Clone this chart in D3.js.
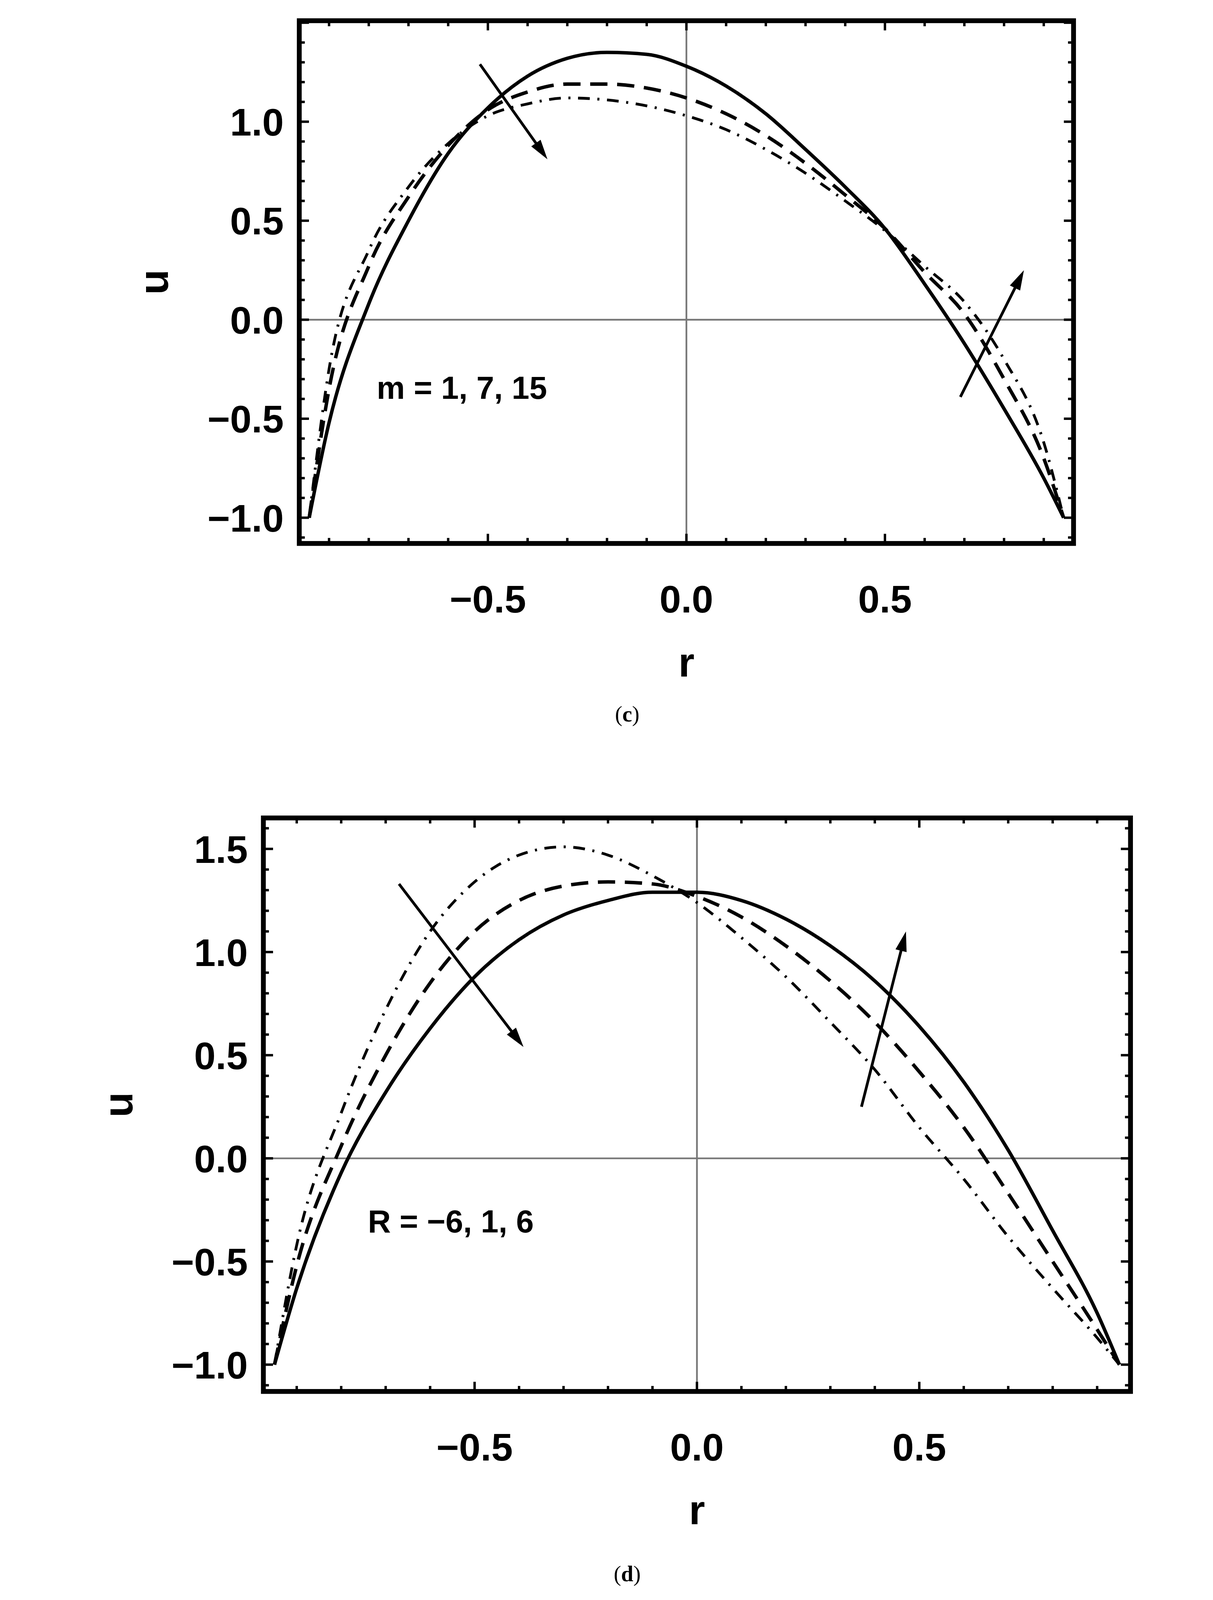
<!DOCTYPE html>
<html><head><meta charset="utf-8">
<script src="https://cdn.jsdelivr.net/npm/d3@7"></script>
<style>html,body{margin:0;padding:0;background:#fff;overflow:hidden}svg{display:block}</style>
</head><body>
<script>
// r grid shared by all curves
var rVals = [-0.95,-0.9,-0.8,-0.7,-0.6,-0.5,-0.4,-0.3,-0.2,-0.1,0,0.1,0.2,0.3,0.4,0.5,0.6,0.7,0.8,0.9,0.95];

// panel (c): m = 1, 7, 15
var uM1  = [-1.0,-0.52,0.08,0.50,0.84,1.07,1.23,1.32,1.35,1.34,1.28,1.18,1.04,0.86,0.67,0.46,0.18,-0.12,-0.45,-0.80,-1.0];
var uM7  = [-1.0,-0.35,0.27,0.62,0.88,1.06,1.15,1.19,1.19,1.17,1.12,1.04,0.93,0.79,0.63,0.46,0.24,0.03,-0.30,-0.70,-1.0];
var uM15 = [-1.0,-0.25,0.35,0.67,0.89,1.03,1.09,1.12,1.11,1.08,1.03,0.96,0.86,0.74,0.60,0.45,0.27,0.09,-0.20,-0.62,-1.0];

// panel (d): R = -6, 1, 6
var uRa = [-1.0,-0.63,-0.07,0.32,0.63,0.88,1.06,1.18,1.25,1.29,1.29,1.25,1.16,1.03,0.86,0.64,0.37,0.04,-0.35,-0.75,-1.0];
var uRb = [-1.0,-0.52,0.06,0.50,0.85,1.10,1.25,1.32,1.34,1.33,1.27,1.17,1.03,0.86,0.66,0.42,0.15,-0.17,-0.50,-0.83,-1.0];
var uRc = [-1.0,-0.42,0.22,0.72,1.10,1.34,1.47,1.51,1.47,1.37,1.24,1.07,0.88,0.66,0.43,0.15,-0.10,-0.38,-0.63,-0.87,-1.0];

var xTicks = [-0.5,0,0.5];
var yTicksC = [-1,-0.5,0,0.5,1];
var yTicksD = [-1,-0.5,0,0.5,1,1.5];

var svg = d3.select("body").append("svg")
  .attr("viewBox","0 0 3106 4634").attr("preserveAspectRatio","xMidYMin meet")
  .style("width","100vw").style("height","100vh");

var dashes = [null, "50,28", "34,22,6,22"];

function panel(o){
  var x = d3.scaleLinear().domain([-0.975,0.975]).range([o.x0,o.x1]);
  var y = d3.scaleLinear().domain(o.ydom).range([o.y1,o.y0]);
  var g = svg.append("g");
  // zero lines
  g.append("line").attr("x1",x(0)).attr("x2",x(0)).attr("y1",o.y0).attr("y2",o.y1).attr("stroke","#777").attr("stroke-width",5);
  g.append("line").attr("x1",o.x0).attr("x2",o.x1).attr("y1",y(0)).attr("y2",y(0)).attr("stroke","#777").attr("stroke-width",5);
  // minor/major ticks inside frame
  var xs = d3.range(-9,10).map(function(i){return i/10;});
  xs.forEach(function(t){
    var L = Math.abs(t*2-Math.round(t*2))<1e-6 ? 28 : 16;
    g.append("line").attr("x1",x(t)).attr("x2",x(t)).attr("y1",o.y1).attr("y2",o.y1-L).attr("stroke","#000").attr("stroke-width",7);
    g.append("line").attr("x1",x(t)).attr("x2",x(t)).attr("y1",o.y0).attr("y2",o.y0+L).attr("stroke","#000").attr("stroke-width",7);
  });
  var ys = d3.range(Math.ceil(o.ydom[0]*10),Math.floor(o.ydom[1]*10)+1).map(function(i){return i/10;});
  ys.forEach(function(t){
    var L = Math.abs(t*2-Math.round(t*2))<1e-6 ? 28 : 16;
    g.append("line").attr("y1",y(t)).attr("y2",y(t)).attr("x1",o.x0).attr("x2",o.x0+L).attr("stroke","#000").attr("stroke-width",7);
    g.append("line").attr("y1",y(t)).attr("y2",y(t)).attr("x1",o.x1).attr("x2",o.x1-L).attr("stroke","#000").attr("stroke-width",7);
  });
  // curves
  var line = d3.line().x(function(d){return x(d[0]);}).y(function(d){return y(d[1]);}).curve(d3.curveMonotoneX);
  o.series.forEach(function(s,i){
    g.append("path").datum(rVals.map(function(r,k){return [r,s[k]];}))
      .attr("d",line).attr("fill","none").attr("stroke","#000")
      .attr("stroke-width", i==2?8:10).attr("stroke-dasharray",dashes[i]);
  });
  // frame
  g.append("rect").attr("x",o.x0).attr("y",o.y0).attr("width",o.x1-o.x0).attr("height",o.y1-o.y0)
    .attr("fill","none").attr("stroke","#000").attr("stroke-width",14);
  // tick labels
  var fmt = function(v){return (v<0?"\u2212":"")+Math.abs(v).toFixed(1);};
  xTicks.forEach(function(t){
    g.append("text").attr("x",x(t)).attr("y",o.y1+200).attr("text-anchor","middle")
      .attr("font-family","Liberation Sans, Arial").attr("font-weight","bold").attr("font-size",112).text(fmt(t));
  });
  o.yticks.forEach(function(t){
    g.append("text").attr("x",o.x0-45).attr("y",y(t)+40).attr("text-anchor","end")
      .attr("font-family","Liberation Sans, Arial").attr("font-weight","bold").attr("font-size",112).text(fmt(t));
  });
  // axis titles
  g.append("text").attr("x",x(0)).attr("y",o.y1+385).attr("text-anchor","middle")
    .attr("font-family","Liberation Sans, Arial").attr("font-weight","bold").attr("font-size",120).text("r");
  g.append("text").attr("transform","translate("+(o.x0-380)+","+((o.y0+o.y1)/2)+") rotate(-90)").attr("text-anchor","middle")
    .attr("font-family","Liberation Sans, Arial").attr("font-weight","bold").attr("font-size",120).text("u");
  // annotation
  g.append("text").attr("x",x(o.label[0])).attr("y",y(o.label[1])).attr("font-family","Liberation Sans, Arial")
    .attr("font-weight","bold").attr("font-size",92).text(o.label[2]);
  // arrows
  o.arrows.forEach(function(a){
    var x1=x(a[0]),y1=y(a[1]),x2=x(a[2]),y2=y(a[3]);
    var ang=Math.atan2(y2-y1,x2-x1), h=60, w=0.28;
    g.append("line").attr("x1",x1).attr("y1",y1).attr("x2",x2-Math.cos(ang)*30).attr("y2",y2-Math.sin(ang)*30)
      .attr("stroke","#000").attr("stroke-width",8);
    g.append("path").attr("d","M"+x2+","+y2+"L"+(x2-h*Math.cos(ang-w))+","+(y2-h*Math.sin(ang-w))
      +"L"+(x2-h*Math.cos(ang+w))+","+(y2-h*Math.sin(ang+w))+"Z").attr("fill","#000");
  });
  // caption
  svg.append("text").attr("x",1613).attr("y",o.cap[1]).attr("text-anchor","middle")
    .attr("font-family","Liberation Serif, Times New Roman").attr("font-size",64)
    .html("(<tspan font-weight='bold'>"+o.cap[0]+"</tspan>)");
}

panel({x0:663,x1:2906,y0:60,y1:1574,ydom:[-1.13,1.51],yticks:yTicksC,
  series:[uM1,uM7,uM15],label:[-0.78,-0.40,"m = 1, 7, 15"],
  arrows:[[-0.52,1.29,-0.35,0.81],[0.69,-0.39,0.85,0.25]],cap:["c",2090]});
panel({x0:559,x1:3071,y0:2369,y1:4030,ydom:[-1.13,1.65],yticks:yTicksD,
  series:[uRa,uRb,uRc],label:[-0.74,-0.36,"R = \u22126, 1, 6"],
  arrows:[[-0.67,1.33,-0.39,0.54],[0.37,0.25,0.47,1.10]],cap:["d",4580]});
</script>
</body></html>
